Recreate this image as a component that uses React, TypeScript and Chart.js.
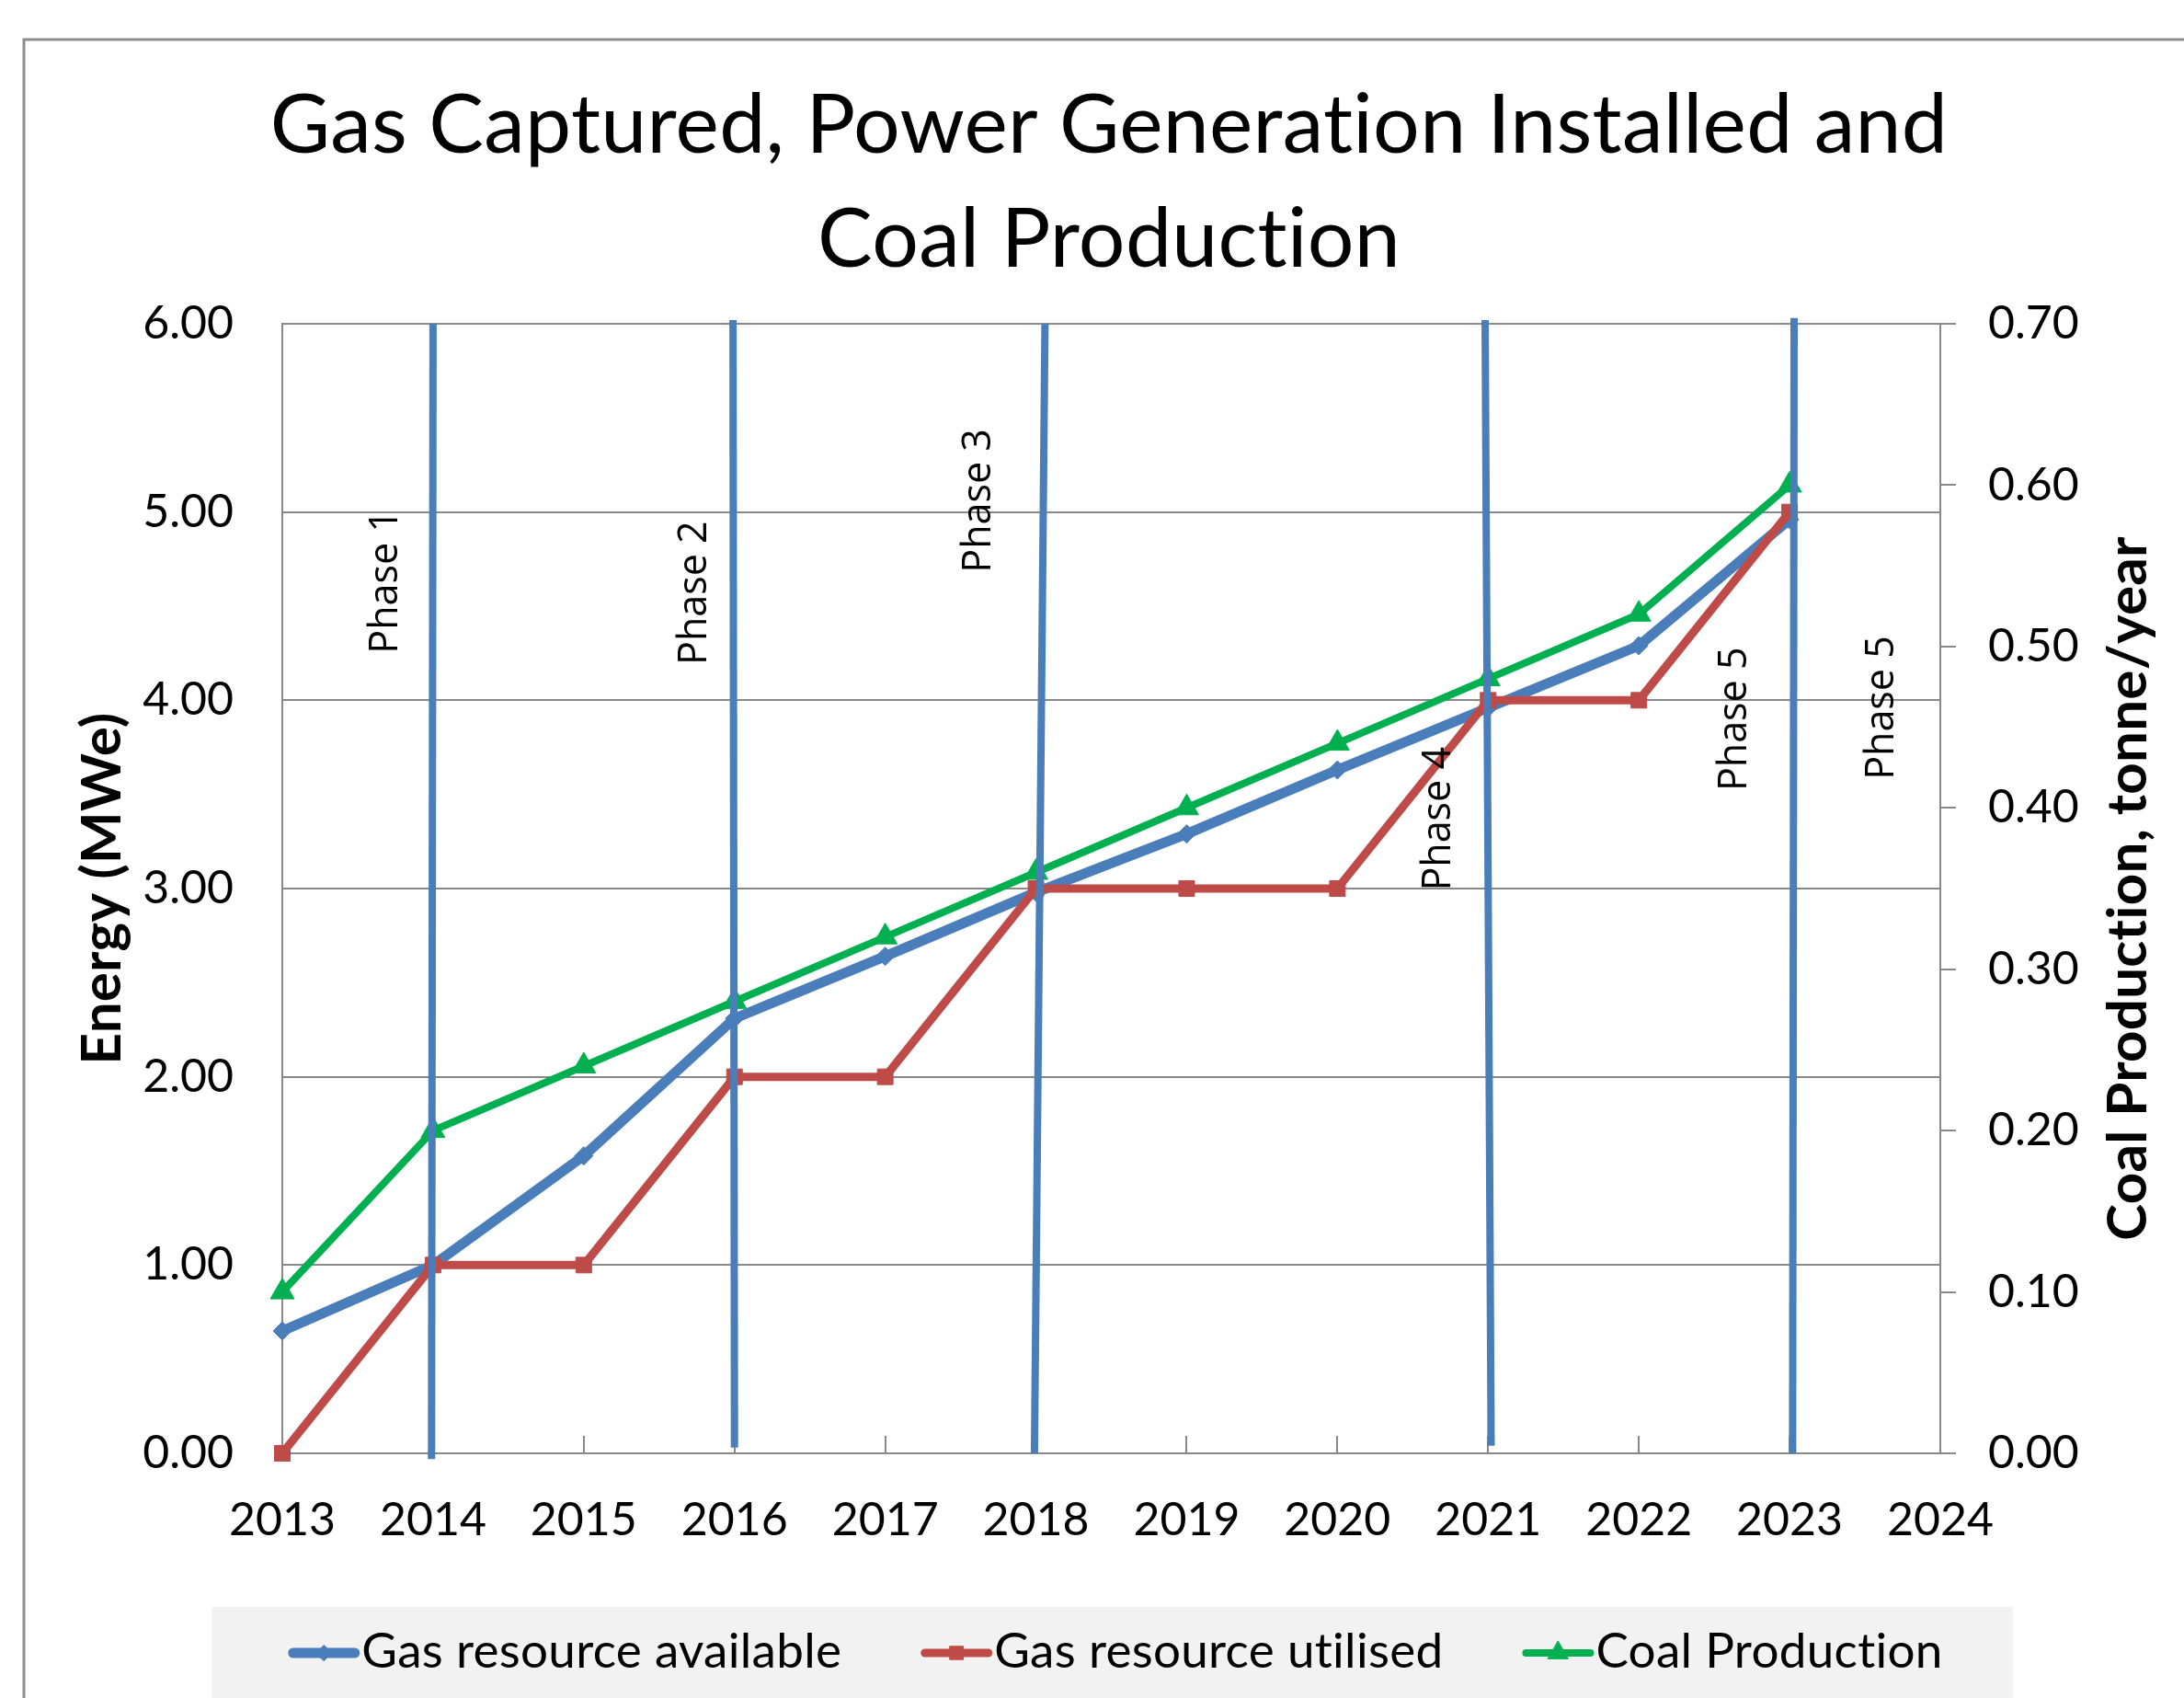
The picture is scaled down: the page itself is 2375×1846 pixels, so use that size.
import React, { useEffect, useRef } from 'react';
import { Chart, registerables } from 'chart.js';
import { drawPoint } from 'chart.js/helpers';

Chart.register(...registerables);

// ---------- data ----------
const titleLines = ['Gas Captured, Power Generation Installed and', 'Coal Production'];
const leftAxisTitle = 'Energy (MWe)';
const rightAxisTitle = 'Coal Production, tonne/year';

const years = [2013, 2014, 2015, 2016, 2017, 2018, 2019, 2020, 2021, 2022, 2023];
const gasAvailable = [0.65, 1.0, 1.58, 2.31, 2.64, 2.98, 3.29, 3.63, 3.96, 4.29, 4.96];
const gasUtilised = [0, 1, 1, 2, 2, 3, 3, 3, 4, 4, 5];
const coalProduction = [0.1, 0.2, 0.24, 0.28, 0.32, 0.36, 0.4, 0.44, 0.48, 0.52, 0.6];

const seriesLabels = ['Gas resource available', 'Gas resource utilised', 'Coal Production'];

// vertical phase marker lines (x, y at bottom and top)
const phaseBottomX = [2013.99, 2016.0, 2017.99, 2021.02, 2023.02];
const phaseBottomY = [-0.03, 0.03, 0.0, 0.04, 0.0];
const phaseTopX = [2014.0, 2015.99, 2018.06, 2020.98, 2023.03];
const phaseTopY = [6.0, 6.02, 6.0, 6.02, 6.03];

// phase text labels (baseline anchor, in data units)
const phaseLabels = ['Phase 1', 'Phase 2', 'Phase 3', 'Phase 4', 'Phase 5', 'Phase 5'];
const phaseLabelX = [2013.76, 2015.81, 2017.7, 2020.75, 2022.71, 2023.69];
const phaseLabelY = [4.63, 4.57, 5.06, 3.37, 3.9, 3.96];

const xMin = 2013;
const xMax = 2024;
const yMax = 6;
const y1Max = 0.7;

// ---------- styles ----------
const BLUE = '#4a7ebb';
const RED = '#be4b48';
const GREEN = '#00b050';
const GRID = '#898989';
const FRAME = '#8e8e8e';
const FONT = 'Lato';

const seriesColors = [BLUE, RED, GREEN];
const seriesWidths = [11, 9, 8];
const seriesPointStyles = ['rectRot', 'rect', 'triangle'];
const seriesPointRadius = [10, 12, 15];

function noLigatures(ctx: any) {
  try {
    ctx.letterSpacing = '0.3px';
  } catch (e) {}
  try {
    ctx.textRendering = 'optimizeSpeed';
  } catch (e) {}
}

const chromePlugin = {
  id: 'chrome',
  beforeDraw(chart: any) {
    const ctx: CanvasRenderingContext2D = chart.ctx;
    const ca = chart.chartArea;
    const cy = (ca.top + ca.bottom) / 2;
    ctx.save();
    ctx.fillStyle = '#ffffff';
    ctx.fillRect(0, 0, chart.width, chart.height);

    // outer frame (top + left edges visible)
    ctx.strokeStyle = FRAME;
    ctx.lineWidth = 3;
    ctx.beginPath();
    ctx.moveTo(26, chart.height + 5);
    ctx.lineTo(26, 43);
    ctx.lineTo(chart.width + 5, 43);
    ctx.stroke();

    noLigatures(ctx);

    // title
    ctx.fillStyle = '#000';
    ctx.textAlign = 'center';
    ctx.textBaseline = 'alphabetic';
    ctx.font = `89.5px ${FONT}`;
    ctx.fillText(titleLines[0], 1206, 166);
    ctx.fillText(titleLines[1], 1206, 290);

    // axis titles
    ctx.font = `bold 60px ${FONT}`;
    ctx.save();
    ctx.translate(131, cy);
    ctx.rotate(-Math.PI / 2);
    ctx.fillText(leftAxisTitle, 0, 0);
    ctx.restore();
    ctx.save();
    ctx.translate(2334, cy);
    ctx.rotate(-Math.PI / 2);
    ctx.fillText(rightAxisTitle, 0, 0);
    ctx.restore();

    // legend
    ctx.fillStyle = '#f2f2f2';
    ctx.fillRect(230, 1747, 1959, chart.height - 1747);
    ctx.font = `53px ${FONT}`;
    const markerW = 78;
    const textGap = 2;
    const itemGap = 86;
    const widths = seriesLabels.map((t) => ctx.measureText(t).width);
    const total = widths.reduce((a, w) => a + markerW + textGap + w, 0) + itemGap * (seriesLabels.length - 1);
    let x = 1213 - total / 2;
    const ly = 1797;
    seriesLabels.forEach((label, i) => {
      ctx.strokeStyle = seriesColors[i];
      ctx.lineWidth = seriesWidths[i];
      ctx.lineCap = 'round';
      ctx.beginPath();
      ctx.moveTo(x + seriesWidths[i] / 2, ly);
      ctx.lineTo(x + markerW - seriesWidths[i] / 2, ly);
      ctx.stroke();
      ctx.fillStyle = seriesColors[i];
      ctx.lineWidth = 1;
      drawPoint(ctx, { pointStyle: seriesPointStyles[i] as any, radius: seriesPointRadius[i] * 0.85, rotation: 0, borderWidth: 1 }, x + markerW / 2, ly);
      ctx.fillStyle = '#000';
      ctx.textAlign = 'left';
      ctx.textBaseline = 'alphabetic';
      ctx.fillText(label, x + markerW + textGap, 1813);
      x += markerW + textGap + widths[i] + itemGap;
    });
    ctx.restore();
  },
  beforeDatasetsDraw(chart: any) {
    const ctx: CanvasRenderingContext2D = chart.ctx;
    const xs = chart.scales.x;
    const ca = chart.chartArea;
    ctx.save();
    ctx.strokeStyle = GRID;
    ctx.lineWidth = 2;
    for (let v = xMin + 1; v < xMax; v++) {
      const px = Math.round(xs.getPixelForValue(v));
      ctx.beginPath();
      ctx.moveTo(px, ca.bottom);
      ctx.lineTo(px, ca.bottom - 19);
      ctx.stroke();
    }
    ctx.restore();
  },
  afterDatasetsDraw(chart: any) {
    const ctx: CanvasRenderingContext2D = chart.ctx;
    const xs = chart.scales.x;
    const ys = chart.scales.y;
    ctx.save();
    ctx.fillStyle = '#000';
    ctx.font = '43px "Open Sans"';
    ctx.textAlign = 'center';
    ctx.textBaseline = 'alphabetic';
    phaseLabels.forEach((t, i) => {
      ctx.save();
      ctx.translate(xs.getPixelForValue(phaseLabelX[i]), ys.getPixelForValue(phaseLabelY[i]));
      ctx.rotate(-Math.PI / 2);
      ctx.fillText(t, 0, 0);
      ctx.restore();
    });
    ctx.restore();
  },
};

export default function App() {
  const ref = useRef<HTMLCanvasElement>(null);
  useEffect(() => {
    const canvas = ref.current;
    if (!canvas) return;

    const seriesData = [gasAvailable, gasUtilised, coalProduction];
    const seriesAxes = ['y', 'y', 'y1'];
    const seriesOrder = [3, 2, 1];

    const seriesDatasets = seriesLabels.map((label, i) => ({
      type: 'line' as const,
      label,
      data: years.map((yr, k) => ({ x: yr, y: seriesData[i][k] })),
      yAxisID: seriesAxes[i],
      xAxisID: 'x',
      borderColor: seriesColors[i],
      backgroundColor: seriesColors[i],
      borderWidth: seriesWidths[i],
      pointStyle: seriesPointStyles[i],
      pointRadius: seriesPointRadius[i],
      pointBorderWidth: 1,
      pointBackgroundColor: seriesColors[i],
      pointBorderColor: seriesColors[i],
      borderJoinStyle: 'round' as const,
      tension: 0,
      fill: false,
      clip: false as any,
      order: seriesOrder[i],
    }));

    const phaseDatasets = phaseBottomX.map((bx, i) => ({
      type: 'line' as const,
      label: 'phase' + (i + 1),
      data: [
        { x: bx, y: phaseBottomY[i] },
        { x: phaseTopX[i], y: phaseTopY[i] },
      ],
      yAxisID: 'y',
      xAxisID: 'x',
      borderColor: BLUE,
      borderWidth: 8,
      pointRadius: 0,
      fill: false,
      clip: false as any,
      order: 0,
    }));

    const tickFont = { family: FONT, size: 50 };

    const chart = new Chart(canvas, {
      type: 'line',
      data: { datasets: [...seriesDatasets, ...phaseDatasets] as any },
      plugins: [chromePlugin],
      options: {
        animation: false,
        responsive: false,
        devicePixelRatio: 1,
        parsing: false as any,
        normalized: true,
        layout: { padding: { top: 352, left: 0, right: 0, bottom: 0 } },
        plugins: {
          legend: { display: false },
          title: { display: false },
          tooltip: { enabled: false },
        },
        scales: {
          x: {
            type: 'linear',
            position: 'bottom',
            min: xMin,
            max: xMax,
            ticks: {
              stepSize: 1,
              autoSkip: false,
              maxRotation: 0,
              callback: (v: any) => String(v),
              font: tickFont,
              color: '#000',
              padding: 43,
            },
            grid: { drawOnChartArea: false, drawTicks: false },
            border: { color: GRID, width: 2 },
            afterFit: (s: any) => {
              s.height = 266;
            },
          },
          y: {
            type: 'linear',
            position: 'left',
            min: 0,
            max: yMax,
            ticks: {
              stepSize: 1,
              callback: (v: any) => Number(v).toFixed(2),
              font: tickFont,
              color: '#000',
              padding: 53,
            },
            grid: { color: GRID, lineWidth: 2, drawTicks: false },
            border: { color: GRID, width: 2 },
            afterFit: (s: any) => {
              s.width = 307;
            },
          },
          y1: {
            type: 'linear',
            position: 'right',
            min: 0,
            max: y1Max,
            ticks: {
              stepSize: 0.1,
              callback: (v: any) => Number(v).toFixed(2),
              font: tickFont,
              color: '#000',
              padding: 35,
            },
            grid: { drawOnChartArea: false, drawTicks: true, tickLength: 17, color: GRID, lineWidth: 2 },
            border: { color: GRID, width: 2 },
            afterFit: (s: any) => {
              s.width = 265;
            },
          },
        },
      } as any,
    });
    return () => chart.destroy();
  }, []);

  return (
    <canvas
      ref={ref}
      width={2375}
      height={1846}
      style={{ position: 'fixed', left: 0, top: 0, width: '2375px', height: '1846px', display: 'block' }}
    />
  );
}
